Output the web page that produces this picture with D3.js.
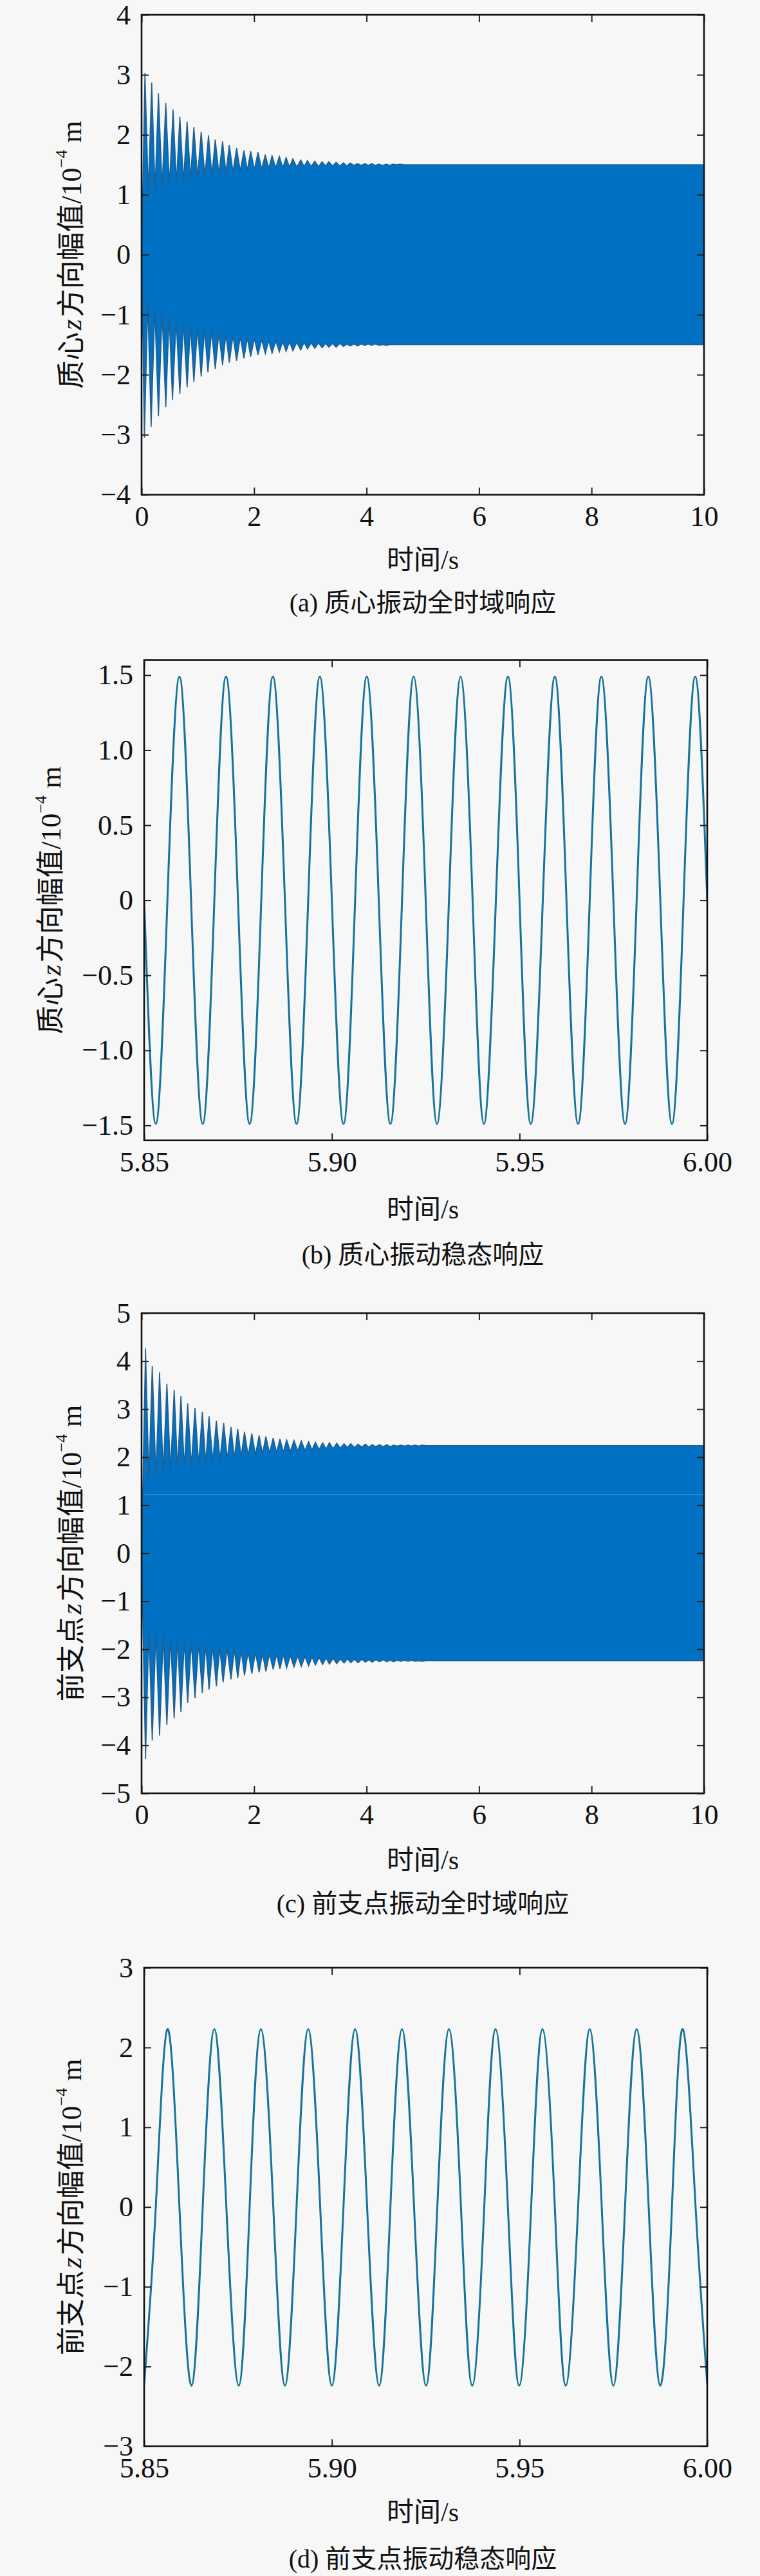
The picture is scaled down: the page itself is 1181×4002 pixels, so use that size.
<!DOCTYPE html>
<html><head><meta charset="utf-8">
<script src="https://cdn.jsdelivr.net/npm/d3@7"></script>
<style>
html,body{margin:0;padding:0;background:#f7f7f7;}
svg{display:block;}
text, tspan{font-family:"Liberation Serif","DejaVu Serif","Noto Sans CJK SC",serif;fill:#111;}
</style></head><body>
<svg id="chart" width="1181" height="4002"></svg>
<script>
// ---------------- DATA ----------------
// Panel (a): centre of mass, full time response (envelope spikes)
const aUpT = [0.06,0.18,0.30,0.43,0.56,0.68,0.81,0.93,1.06,1.19,1.31,1.44,1.56,1.69,1.82,1.94,2.07,2.20,2.32,2.45,2.57,2.69,2.83,2.95,3.08,3.21,3.33,3.46,3.59,3.71,3.84,3.97,4.09,4.22,4.35,4.47,4.60,4.73,4.85,4.98];
const aUpV = [3.03,2.87,2.69,2.53,2.42,2.30,2.22,2.13,2.05,1.99,1.92,1.89,1.83,1.78,1.74,1.73,1.71,1.67,1.65,1.64,1.62,1.60,1.58,1.57,1.56,1.55,1.55,1.54,1.53,1.53,1.52,1.52,1.52,1.51,1.51,1.51,1.51,1.50,1.50,1.50];
const aUpValley = [1.05,1.10,1.14,1.17,1.20,1.23,1.26,1.29,1.31,1.33,1.35,1.37,1.38,1.40,1.41,1.42,1.43,1.44,1.45,1.45,1.46,1.46,1.47,1.47,1.47,1.48,1.48,1.48,1.48,1.49,1.49,1.49,1.49,1.49,1.49,1.50,1.50,1.50,1.50];
const aLoT = [0.05,0.17,0.30,0.43,0.55,0.68,0.81,0.93,1.06,1.18,1.31,1.44,1.56,1.69,1.82,1.94,2.07,2.20,2.32,2.45,2.57,2.69,2.83,2.95,3.08,3.21,3.33,3.46,3.59,3.71,3.84,3.97,4.09,4.22,4.35,4.47,4.60,4.73,4.85,4.98];
const aLoV = [-3.05,-2.87,-2.69,-2.54,-2.42,-2.32,-2.21,-2.12,-2.03,-1.96,-1.90,-1.84,-1.80,-1.77,-1.73,-1.70,-1.67,-1.65,-1.64,-1.62,-1.61,-1.60,-1.59,-1.57,-1.56,-1.55,-1.54,-1.54,-1.53,-1.52,-1.52,-1.51,-1.51,-1.51,-1.51,-1.50,-1.50,-1.50,-1.50,-1.50];
const aLoValley = [-0.80,-0.90,-0.98,-1.04,-1.09,-1.14,-1.18,-1.22,-1.25,-1.28,-1.31,-1.33,-1.35,-1.37,-1.39,-1.40,-1.42,-1.43,-1.44,-1.45,-1.45,-1.46,-1.46,-1.47,-1.47,-1.48,-1.48,-1.48,-1.49,-1.49,-1.49,-1.49,-1.49,-1.50,-1.50,-1.50,-1.50,-1.50,-1.50];
const aStartT = [0.0], aStartV = [0.0];
const aTailT = [10.0], aTailUp = [1.50], aTailLo = [-1.50];

// Panel (b): centre of mass, steady state 5.85–6.00 s
const bPeakT = [5.8594,5.8718,5.8843,5.8968,5.9093,5.9218,5.9343,5.9469,5.9594,5.9718,5.9843,5.9968];
const bPeakV = [1.49,1.49,1.49,1.49,1.49,1.49,1.49,1.49,1.49,1.49,1.49,1.49];
const bTroughT = [5.8531,5.8656,5.8781,5.8906,5.9031,5.9156,5.9280,5.9405,5.9530,5.9656,5.9781,5.9906];
const bTroughV = [-1.49,-1.49,-1.49,-1.49,-1.49,-1.49,-1.49,-1.49,-1.49,-1.49,-1.49,-1.49];
const bZeroT = [5.8500,5.8562,5.8625,5.8687,5.8750,5.8812,5.8875,5.8937,5.9000,5.9062,5.9125,5.9187,5.9250,5.9312,5.9375,5.9437,5.9500,5.9562,5.9625,5.9687,5.9750,5.9812,5.9875,5.9937,6.0000];

// Panel (c): front support point, full time response
const cUpT = [0.07,0.19,0.32,0.45,0.58,0.70,0.82,0.95,1.08,1.20,1.33,1.46,1.59,1.71,1.83,1.96,2.09,2.21,2.34,2.46,2.58,2.71,2.84,2.97,3.09,3.22,3.34,3.47,3.60,3.72,3.85,3.98,4.10,4.23,4.36,4.48,4.61,4.74,4.86,4.99,5.12,5.24,5.37,5.50,5.62];
const cUpV = [4.27,3.90,3.77,3.53,3.40,3.27,3.12,3.03,2.94,2.85,2.76,2.71,2.63,2.59,2.53,2.49,2.45,2.43,2.40,2.38,2.36,2.35,2.34,2.32,2.31,2.30,2.30,2.29,2.28,2.28,2.27,2.27,2.26,2.26,2.26,2.25,2.25,2.25,2.25,2.25,2.24,2.24,2.24,2.24,2.24];
const cUpValley = [1.55,1.62,1.67,1.71,1.75,1.79,1.83,1.86,1.89,1.92,1.95,1.97,1.99,2.01,2.03,2.05,2.07,2.09,2.10,2.11,2.12,2.13,2.14,2.15,2.16,2.17,2.18,2.19,2.20,2.20,2.21,2.21,2.22,2.22,2.22,2.23,2.23,2.23,2.23,2.24,2.24,2.24,2.24,2.24];
const cLoT = [0.07,0.19,0.32,0.45,0.58,0.70,0.82,0.95,1.08,1.20,1.33,1.45,1.59,1.71,1.83,1.96,2.09,2.21,2.34,2.46,2.58,2.71,2.84,2.97,3.09,3.22,3.34,3.47,3.60,3.72,3.85,3.98,4.10,4.23,4.36,4.48,4.61,4.74,4.86,4.99,5.12,5.24,5.37,5.50,5.62];
const cLoV = [-4.29,-3.90,-3.80,-3.58,-3.44,-3.31,-3.12,-3.02,-2.91,-2.84,-2.77,-2.69,-2.63,-2.60,-2.55,-2.51,-2.48,-2.46,-2.42,-2.41,-2.39,-2.37,-2.36,-2.35,-2.33,-2.32,-2.31,-2.30,-2.29,-2.28,-2.28,-2.27,-2.27,-2.26,-2.26,-2.26,-2.25,-2.25,-2.25,-2.25,-2.24,-2.24,-2.24,-2.24,-2.24];
const cLoValley = [-1.60,-1.66,-1.71,-1.75,-1.79,-1.83,-1.86,-1.89,-1.92,-1.95,-1.97,-1.99,-2.01,-2.03,-2.05,-2.07,-2.09,-2.10,-2.11,-2.12,-2.13,-2.14,-2.15,-2.16,-2.17,-2.18,-2.19,-2.20,-2.20,-2.21,-2.21,-2.22,-2.22,-2.22,-2.23,-2.23,-2.23,-2.23,-2.24,-2.24,-2.24,-2.24,-2.24,-2.24];
const cStartT = [0.0], cStartV = [0.0];
const cTailT = [10.0], cTailUp = [2.24], cTailLo = [-2.24];
const cStreakV = [1.22], cStreakT = [0.05, 10.0];

// Panel (d): front support point, steady state
const dPeakT = [5.8562,5.8687,5.8811,5.8937,5.9062,5.9187,5.9312,5.9436,5.9561,5.9687,5.9812,5.9935];
const dPeakV = [2.23,2.23,2.23,2.23,2.23,2.23,2.23,2.23,2.23,2.23,2.23,2.23];
const dTroughT = [5.8500,5.8626,5.8752,5.8875,5.9000,5.9126,5.9251,5.9374,5.9499,5.9623,5.9750,5.9875,6.0000];
const dTroughV = [-2.22,-2.24,-2.24,-2.24,-2.24,-2.24,-2.24,-2.24,-2.24,-2.24,-2.24,-2.24,-2.22];
const dZeroT = [5.8531,5.8594,5.8656,5.8719,5.8781,5.8844,5.8906,5.8969,5.9031,5.9094,5.9156,5.9219,5.9281,5.9344,5.9406,5.9469,5.9531,5.9594,5.9656,5.9719,5.9781,5.9844,5.9906,5.9969];

// Ticks and labels
const fullXTicks = [0,2,4,6,8,10];
const fullXLabels = ["0","2","4","6","8","10"];
const aYTicks = [-4,-3,-2,-1,0,1,2,3,4];
const aYLabels = ["\u22124","\u22123","\u22122","\u22121","0","1","2","3","4"];
const cYTicks = [-5,-4,-3,-2,-1,0,1,2,3,4,5];
const cYLabels = ["\u22125","\u22124","\u22123","\u22122","\u22121","0","1","2","3","4","5"];
const steadyXTicks = [5.85,5.90,5.95,6.00];
const steadyXLabels = ["5.85","5.90","5.95","6.00"];
const bYTicks = [-1.5,-1.0,-0.5,0,0.5,1.0,1.5];
const bYLabels = ["\u22121.5","\u22121.0","\u22120.5","0","0.5","1.0","1.5"];
const dYTicks = [-3,-2,-1,0,1,2,3];
const dYLabels = ["\u22123","\u22122","\u22121","0","1","2","3"];

const xTitle = "时间/s";
const yTitleA = "质心", yTitleC = "前支点";
const captions = ["(a) 质心振动全时域响应","(b) 质心振动稳态响应","(c) 前支点振动全时域响应","(d) 前支点振动稳态响应"];

// ---------------- DRAWING ----------------
const SERIF = '"Liberation Serif","DejaVu Serif","Noto Sans CJK SC",serif';
const svg = d3.select("#chart");
const FILL = "#0071c3";
const LINE = "#17739a";

function panel(cfg, idx){
  const g = svg.append("g");
  const x = d3.scaleLinear().domain(cfg.xDomain).range([cfg.left, cfg.right]);
  const y = d3.scaleLinear().domain(cfg.yDomain).range([cfg.bottom, cfg.top]);
  const clipId = "clip" + idx;
  svg.append("clipPath").attr("id", clipId).append("rect")
    .attr("x", cfg.left).attr("y", cfg.top)
    .attr("width", cfg.right - cfg.left).attr("height", cfg.bottom - cfg.top);
  const plot = g.append("g").attr("clip-path", `url(#${clipId})`);
  const axes = g.append("g").attr("class", "axes");

  const tickLen = -11;
  const styleAxis = sel => {
    sel.attr("font-family", SERIF);
    sel.select(".domain").remove();
    sel.selectAll(".tick line").attr("stroke", "#222").attr("stroke-width", 2);
    sel.selectAll(".tick text").attr("font-size", 44).attr("fill", "#111")
      .attr("font-family", SERIF).style("font-family", SERIF);
  };
  axes.append("g").attr("transform", `translate(0,${cfg.bottom})`)
    .call(d3.axisBottom(x).tickValues(cfg.xTicks).tickFormat((d,i)=>cfg.xLabels[i]).tickSizeInner(tickLen).tickSizeOuter(0).tickPadding(17))
    .call(styleAxis);
  axes.append("g").attr("transform", `translate(0,${cfg.top})`)
    .call(d3.axisTop(x).tickValues(cfg.xTicks).tickFormat("").tickSizeInner(tickLen).tickSizeOuter(0))
    .call(styleAxis);
  axes.append("g").attr("transform", `translate(${cfg.left},0)`)
    .call(d3.axisLeft(y).tickValues(cfg.yTicks).tickFormat((d,i)=>cfg.yLabels[i]).tickSizeInner(tickLen).tickSizeOuter(0).tickPadding(17))
    .call(styleAxis);
  axes.append("g").attr("transform", `translate(${cfg.right},0)`)
    .call(d3.axisRight(y).tickValues(cfg.yTicks).tickFormat("").tickSizeInner(tickLen).tickSizeOuter(0))
    .call(styleAxis);

  // y title
  const cy = (cfg.top + cfg.bottom) / 2;
  const yt = axes.append("text").attr("transform", `translate(${cfg.yLabelX},${cy}) rotate(-90)`)
    .attr("text-anchor", "middle").attr("dominant-baseline", "central").attr("font-size", 44)
    .style("font-family", SERIF);
  yt.append("tspan").text(cfg.yTitle);
  yt.append("tspan").attr("font-style", "italic").attr("dx", 3).text("z");
  yt.append("tspan").attr("dx", 3).text("方向幅值/10");
  yt.append("tspan").attr("font-size", 26).attr("dy", -16).text("\u22124");
  yt.append("tspan").attr("dy", 16).text("\u00a0m");

  // x title and caption
  const cx = 657;
  axes.append("text").attr("x", cx).attr("y", cfg.bottom + cfg.xTitleDy).attr("text-anchor", "middle")
    .attr("dominant-baseline", "central").attr("font-size", 42).style("font-family", SERIF).text(xTitle);
  axes.append("text").attr("x", cx).attr("y", cfg.bottom + cfg.capDy).attr("text-anchor", "middle")
    .attr("dominant-baseline", "central").attr("font-size", 40).style("font-family", SERIF).text(captions[idx]);

  axes.append("rect").attr("x", cfg.left).attr("y", cfg.top)
    .attr("width", cfg.right - cfg.left).attr("height", cfg.bottom - cfg.top)
    .attr("fill", "none").attr("stroke", "#111").attr("stroke-width", 2.6);
  return {plot, x, y, g};
}

function envelopePoly(startT, startV, upT, upV, upVal, loT, loV, loVal, tailT, tailUp, tailLo){
  const up = [[startT[0], startV[0]]];
  upT.forEach((t,i)=>{
    up.push([t, upV[i]]);
    if (i < upVal.length) up.push([(t + upT[i+1]) / 2, upVal[i]]);
  });
  up.push([tailT[0], tailUp[0]]);
  const lo = [[startT[0], startV[0]]];
  loT.forEach((t,i)=>{
    lo.push([t, loV[i]]);
    if (i < loVal.length) lo.push([(t + loT[i+1]) / 2, loVal[i]]);
  });
  lo.push([tailT[0], tailLo[0]]);
  return up.concat(lo.reverse());
}

function drawEnvelope(p, pts){
  const line = d3.line().x(d=>p.x(d[0])).y(d=>p.y(d[1])).curve(d3.curveLinearClosed);
  p.plot.append("path").attr("d", line(pts)).attr("fill", FILL)
    .attr("stroke", "#235f8e").attr("stroke-width", 1.6).attr("stroke-linejoin", "miter");
}

function drawSteady(p, peakT, peakV, troughT, troughV, zeroT){
  const pts = [];
  peakT.forEach((t,i)=>pts.push([t, peakV[i]]));
  troughT.forEach((t,i)=>pts.push([t, troughV[i]]));
  zeroT.forEach(t=>pts.push([t, 0]));
  pts.sort((a,b)=>a[0]-b[0]);
  const line = d3.line().x(d=>p.x(d[0])).y(d=>p.y(d[1])).curve(d3.curveNatural);
  p.plot.append("path").attr("d", line(pts)).attr("fill", "none")
    .attr("stroke", LINE).attr("stroke-width", 3);
}

// (a)
const pa = panel({left:220, right:1094, top:23, bottom:768.5, xDomain:[0,10], yDomain:[-4,4],
  xTicks:fullXTicks, xLabels:fullXLabels, yTicks:aYTicks, yLabels:aYLabels,
  yTitle:yTitleA, yLabelX:111, xTitleDy:101, capDy:168}, 0);
drawEnvelope(pa, envelopePoly(aStartT, aStartV, aUpT, aUpV, aUpValley, aLoT, aLoV, aLoValley, aTailT, aTailUp, aTailLo));

// (b)
const pb = panel({left:224, right:1099, top:1025.5, bottom:1771.7, xDomain:[5.85,6.00], yDomain:[-1.6,1.6],
  xTicks:steadyXTicks, xLabels:steadyXLabels, yTicks:bYTicks, yLabels:bYLabels,
  yTitle:yTitleA, yLabelX:79, xTitleDy:107, capDy:178}, 1);
drawSteady(pb, bPeakT, bPeakV, bTroughT, bTroughV, bZeroT);

// (c)
const pc = panel({left:220, right:1094, top:2040, bottom:2786, xDomain:[0,10], yDomain:[-5,5],
  xTicks:fullXTicks, xLabels:fullXLabels, yTicks:cYTicks, yLabels:cYLabels,
  yTitle:yTitleC, yLabelX:111, xTitleDy:104, capDy:171}, 2);
drawEnvelope(pc, envelopePoly(cStartT, cStartV, cUpT, cUpV, cUpValley, cLoT, cLoV, cLoValley, cTailT, cTailUp, cTailLo));
pc.plot.append("line").attr("x1", pc.x(cStreakT[0])).attr("x2", pc.x(cStreakT[1]))
  .attr("y1", pc.y(cStreakV[0])).attr("y2", pc.y(cStreakV[0]))
  .attr("stroke", "#3a8ed6").attr("stroke-width", 2).attr("opacity", 0.8);

// (d)
const pd = panel({left:224, right:1099, top:3057, bottom:3800.5, xDomain:[5.85,6.00], yDomain:[-3,3],
  xTicks:steadyXTicks, xLabels:steadyXLabels, yTicks:dYTicks, yLabels:dYLabels,
  yTitle:yTitleC, yLabelX:111, xTitleDy:102, capDy:175}, 3);
drawSteady(pd, dPeakT, dPeakV, dTroughT, dTroughV, dZeroT);

// bring frames / ticks above data
svg.selectAll(".axes").raise();
</script>
</body></html>
